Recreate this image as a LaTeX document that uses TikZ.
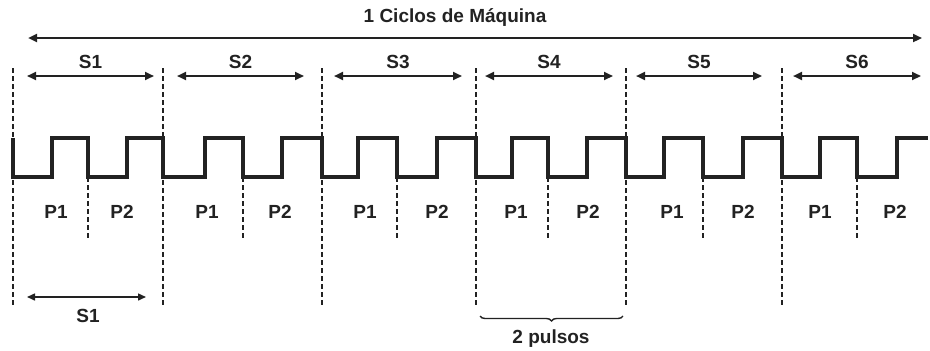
\documentclass[tikz,border=0pt]{standalone}
\usepackage{fontspec}
\setmainfont{Liberation Sans}
\usetikzlibrary{arrows.meta,decorations.pathreplacing}
\definecolor{ink}{HTML}{222222}
\tikzset{
  wave/.style={draw=ink,line width=3.4pt,line join=miter},
  guide/.style={draw=ink,line width=2pt,dash pattern=on 5pt off 3pt},
  span/.style={draw=ink,line width=2.2pt,{Triangle[length=9pt,width=8pt]}-{Triangle[length=9pt,width=8pt]}},
  thinspan/.style={draw=ink,line width=1.5pt,{Triangle[length=8pt,width=7pt]}-{Triangle[length=8pt,width=7pt]}},
  lbl/.style={text=ink,font=\bfseries\fontsize{19}{19}\selectfont,inner sep=0pt,anchor=center},
}
\begin{document}
\begin{tikzpicture}[x=1pt,y=-1pt]
\useasboundingbox (0,0) rectangle (930,351);

% machine cycle span
\node[lbl] (ciclo) at (455,18) {1 Ciclos de Máquina};
\coordinate (cL) at (28,38);
\coordinate (cR) at (922,38);
\draw[span,line width=2.6pt] (cL) -- (cR);

% clock waveform, one block per state (start, rise, fall, rise)
\draw[wave] (13,138)
  foreach \s/\a/\b/\c in {13/52/88/127,163/205/243/282,322/358/397/437,476/512/548/587,626/664/703/743,782/820/857/897}
  { -- (\s,138) -- (\s,177) -- (\a,177) -- (\a,138) -- (\b,138) -- (\b,177) -- (\c,177) -- (\c,138) }
  -- (928,138);

% state boundaries and pulse separators
\foreach \s in {13,163,322,476,626,782}
  \draw[guide] (\s,68) -- (\s,305);
\foreach \b in {88,243,397,548,703,857}
  \draw[guide] (\b,177) -- (\b,240);

% state spans S1..S6
\foreach \i/\l/\r in {1/27/154,2/177/304,3/334/462,4/485/613,5/636/762,6/793/921}{
  \coordinate (sL\i) at (\l,76);
  \coordinate (sR\i) at (\r,76);
  \draw[span] (sL\i) -- (sR\i);
  \node[lbl] (sn\i) at ({(\l+\r)/2},62) {S\i};
}

% pulse labels
\foreach \i/\p/\q in {1/56/122,2/207/280,3/365/437,4/516/588,5/672/743,6/820/895}{
  \node[lbl] (pa\i) at (\p,212) {P1};
  \node[lbl] (pb\i) at (\q,212) {P2};
}

% single state span below
\coordinate (bL) at (27,297);
\coordinate (bR) at (146,297);
\draw[thinspan] (bL) -- (bR);
\node[lbl] (bS) at (88,316) {S1};

% two pulses brace
\coordinate (brL) at (480,316);
\coordinate (brR) at (623,316);
\draw[draw=ink,line width=1.4pt,decorate,decoration={brace,mirror,amplitude=5pt}] (brL) -- (brR);
\node[lbl] (pulsos) at (551,339) {2 pulsos};
\end{tikzpicture}
\end{document}
